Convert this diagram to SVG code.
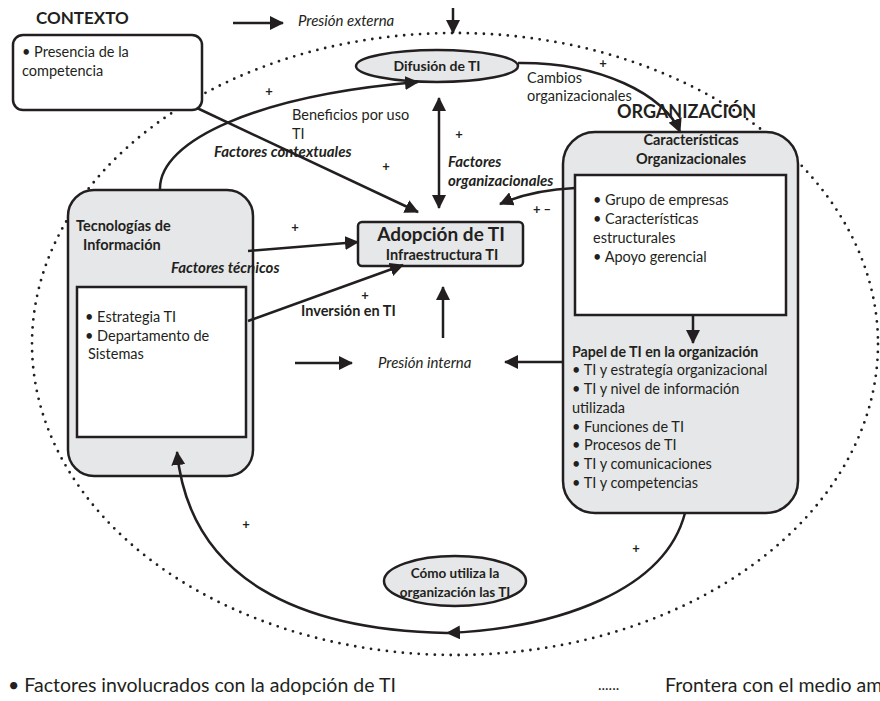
<svg xmlns="http://www.w3.org/2000/svg" width="880" height="701" viewBox="0 0 880 701">
<style>
text{font-family:Lato,"Open Sans","DejaVu Sans",sans-serif;fill:#231f20}
.t{font-size:14.5px}
.b{font-weight:bold}
.i{font-style:italic;font-size:15px}
.bi{font-weight:bold;font-style:italic;font-size:15px}
.pl{font-weight:bold;font-size:13px}
.box{fill:#e6e7e8;stroke:#231f20;stroke-width:2.5}
.inner{fill:#fff;stroke:#231f20;stroke-width:2.5}
.c{fill:none;stroke:#231f20;stroke-width:2.5}
.a{marker-end:url(#ah)}
.dot{fill:none;stroke:#231f20;stroke-width:2.8;stroke-linecap:round;stroke-dasharray:0 8}
.lg{font-size:19.5px}
</style>
<defs>
<marker id="ah" viewBox="0 0 14 14" refX="13" refY="7" markerWidth="14" markerHeight="14" markerUnits="userSpaceOnUse" orient="auto-start-reverse">
<path d="M0,0 L14,7 L0,14 z" fill="#231f20"/>
</marker>
</defs>
<rect width="880" height="701" fill="#fff"/>

<g id="frontera">
<ellipse class="dot" cx="455" cy="344" rx="423" ry="311"/>
</g>

<g id="contexto">
<text x="36" y="24" class="b" font-size="17">CONTEXTO</text>
<rect x="13" y="35" width="189" height="75" rx="10" class="inner"/>
<text x="22" y="57" class="t">• Presencia de la</text>
<text x="22" y="76" class="t">competencia</text>
</g>

<g id="presion-externa">
<text x="298" y="26" class="i">Presión externa</text>
</g>

<g id="difusion">
<ellipse cx="437" cy="66" rx="81" ry="16" class="box"/>
<text x="437" y="71" class="b" font-size="14" text-anchor="middle">Difusión de TI</text>
</g>

<g id="tecnologias">
<rect x="68" y="190" width="185" height="286" rx="26" class="box"/>
<text x="76" y="231" class="b" font-size="14.5">Tecnologías de</text>
<text x="83" y="250" class="b" font-size="14.5">Información</text>
<text x="171" y="273" class="bi">Factores técnicos</text>
<rect x="77" y="287" width="169" height="150" class="inner"/>
<text x="85" y="322" class="t">• Estrategia TI</text>
<text x="85" y="341" class="t">• Departamento de</text>
<text x="88" y="359" class="t">Sistemas</text>
</g>

<g id="adopcion">
<rect x="358" y="222" width="165" height="44" rx="4" class="box"/>
<text x="441" y="241" class="b" font-size="19" text-anchor="middle">Adopción de TI</text>
<text x="442" y="260" class="b" font-size="14.5" text-anchor="middle">Infraestructura TI</text>
</g>

<g id="organizacion">
<text x="617" y="118" class="b" font-size="18">ORGANIZACIÓN</text>
<rect x="563" y="132" width="235" height="381" rx="32" class="box"/>
<text x="691" y="145" class="b" font-size="14.5" text-anchor="middle">Características</text>
<text x="691" y="164" class="b" font-size="14.5" text-anchor="middle">Organizacionales</text>
<rect x="575" y="175" width="211" height="140" class="inner"/>
<text x="593" y="205" class="t">• Grupo de empresas</text>
<text x="593" y="224" class="t">• Características</text>
<text x="593" y="243" class="t">estructurales</text>
<text x="593" y="262" class="t">• Apoyo gerencial</text>
<text x="572" y="357" class="b" font-size="14.2">Papel de TI en la organización</text>
<text x="572" y="375" class="t">• TI y estrategía organizacional</text>
<text x="572" y="394" class="t">• TI y nivel de información</text>
<text x="572" y="413" class="t">utilizada</text>
<text x="572" y="432" class="t">• Funciones de TI</text>
<text x="572" y="450" class="t">• Procesos de TI</text>
<text x="572" y="469" class="t">• TI y comunicaciones</text>
<text x="572" y="488" class="t">• TI y competencias</text>
</g>

<g id="como-utiliza">
<ellipse cx="455" cy="581" rx="71" ry="25" class="box"/>
<text x="455" y="578" class="b" font-size="13.5" text-anchor="middle">Cómo utiliza la</text>
<text x="455" y="597" class="b" font-size="13.5" text-anchor="middle">organización las TI</text>
</g>

<g id="presion-interna">
<text x="378" y="368" class="i">Presión interna</text>
</g>

<g id="connectors">
<path class="c a" d="M233,23 L283,23"/>
<path class="c a" d="M453,8 L453,33"/>
<path class="c a" d="M160,190 C158,140 260,95 418,82"/>
<path class="c a" d="M197,108 L418,212"/>
<path class="c a" d="M439,208 L439,98" style="marker-start:url(#ah)"/>
<path class="c a" d="M575,188 Q532,190 500,204"/>
<path class="c a" d="M518,63 C600,62 665,95 680,132"/>
<path class="c a" d="M248,251 L358,242"/>
<path class="c a" d="M248,321 L403,265"/>
<path class="c a" d="M295,363 L352,363"/>
<path class="c a" d="M443,338 L443,287"/>
<path class="c a" d="M563,362 L505,362"/>
<path class="c a" d="M693,315 L693,343"/>
<path class="c a" d="M685,513 C665,590 560,628 447,633"/>
<path class="c a" d="M447,633 C300,630 190,580 177,452"/>
</g>

<g id="labels">
<text x="292" y="120" class="t">Beneficios por uso</text>
<text x="292" y="139" class="t">TI</text>
<text x="214" y="157" class="bi">Factores contextuales</text>
<text x="527" y="83" class="t">Cambios</text>
<text x="527" y="101" class="t">organizacionales</text>
<text x="448" y="167" class="bi">Factores</text>
<text x="448" y="186" class="bi">organizacionales</text>
<text x="301" y="316" class="b" font-size="14.5">Inversión en TI</text>
<text x="269" y="96" class="pl" text-anchor="middle">+</text>
<text x="386" y="171" class="pl" text-anchor="middle">+</text>
<text x="459" y="139" class="pl" text-anchor="middle">+</text>
<text x="603" y="68" class="pl" text-anchor="middle">+</text>
<text x="542" y="214" class="pl" text-anchor="middle">+ –</text>
<text x="295" y="232" class="pl" text-anchor="middle">+</text>
<text x="365" y="300" class="pl" text-anchor="middle">+</text>
<text x="246" y="529" class="pl" text-anchor="middle">+</text>
<text x="636" y="553" class="pl" text-anchor="middle">+</text>
</g>

<g id="leyenda">
<text x="8" y="692" class="lg">• Factores involucrados con la adopción de TI</text>
<text x="598" y="690" font-size="15">......</text>
<text x="665" y="692" class="lg">Frontera con el medio ambiente</text>
</g>
</svg>
